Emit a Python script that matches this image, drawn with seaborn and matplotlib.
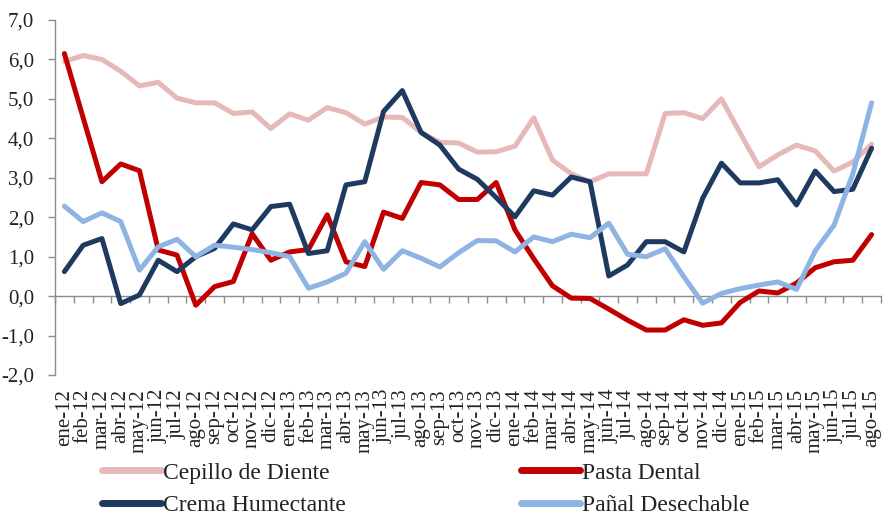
import matplotlib
matplotlib.use("Agg")
import matplotlib.pyplot as plt
import seaborn as sns
import pandas as pd
from matplotlib.ticker import FuncFormatter, FixedLocator

months = ["ene-12", "feb-12", "mar-12", "abr-12", "may-12", "jun-12", "jul-12", "ago-12", "sep-12", "oct-12", "nov-12", "dic-12",
          "ene-13", "feb-13", "mar-13", "abr-13", "may-13", "jun-13", "jul-13", "ago-13", "sep-13", "oct-13", "nov-13", "dic-13",
          "ene-14", "feb-14", "mar-14", "abr-14", "may-14", "jun-14", "jul-14", "ago-14", "sep-14", "oct-14", "nov-14", "dic-14",
          "ene-15", "feb-15", "mar-15", "abr-15", "may-15", "jun-15", "jul-15", "ago-15"]

cepillo = [5.95, 6.10, 6.00, 5.70, 5.33, 5.42, 5.02, 4.90, 4.90, 4.63, 4.67, 4.25,
           4.62, 4.46, 4.78, 4.65, 4.36, 4.54, 4.53, 4.15, 3.90, 3.88, 3.65, 3.66,
           3.80, 4.52, 3.45, 3.10, 2.90, 3.10, 3.10, 3.10, 4.63, 4.65, 4.50, 5.00,
           4.13, 3.28, 3.58, 3.83, 3.68, 3.17, 3.40, 3.85]
pasta = [6.15, 4.52, 2.90, 3.35, 3.18, 1.17, 1.04, -0.23, 0.24, 0.37, 1.58, 0.91,
         1.12, 1.18, 2.06, 0.87, 0.75, 2.13, 1.97, 2.88, 2.82, 2.45, 2.45, 2.88,
         1.68, 0.95, 0.26, -0.05, -0.06, -0.33, -0.61, -0.86, -0.86, -0.60, -0.74, -0.68,
         -0.16, 0.13, 0.08, 0.33, 0.72, 0.87, 0.91, 1.56]
crema = [0.62, 1.29, 1.46, -0.19, 0.03, 0.91, 0.62, 1.00, 1.21, 1.83, 1.68, 2.27,
         2.33, 1.08, 1.15, 2.82, 2.90, 4.68, 5.21, 4.15, 3.83, 3.22, 2.96, 2.50,
         2.01, 2.67, 2.56, 3.02, 2.90, 0.51, 0.79, 1.38, 1.38, 1.12, 2.48, 3.37,
         2.87, 2.87, 2.95, 2.31, 3.17, 2.65, 2.71, 3.75]
panal = [2.28, 1.89, 2.11, 1.89, 0.66, 1.25, 1.44, 1.00, 1.29, 1.24, 1.18, 1.10,
         1.00, 0.20, 0.36, 0.58, 1.38, 0.68, 1.15, 0.96, 0.74, 1.10, 1.41, 1.40,
         1.12, 1.50, 1.38, 1.57, 1.48, 1.85, 1.06, 1.00, 1.20, 0.49, -0.18, 0.07,
         0.19, 0.28, 0.36, 0.17, 1.15, 1.80, 3.10, 4.90]

series_names = ["Cepillo de Diente", "Pasta Dental", "Crema Humectante", "Pañal Desechable"]
series_colors = ["#E6B9B8", "#C00000", "#1F3A60", "#8DB4E2"]
y_ticks = [-2, -1, 0, 1, 2, 3, 4, 5, 6, 7]

frames = []
for name, vals in zip(series_names, [cepillo, pasta, crema, panal]):
    frames.append(pd.DataFrame({"mes": months, "valor": vals, "serie": name}))
df = pd.concat(frames, ignore_index=True)

sns.set_theme(style="white")
plt.rcParams["font.family"] = ["Liberation Serif", "DejaVu Serif"]

fig = plt.figure(figsize=(8.95, 5.18), dpi=100)
ax = fig.add_axes([55 / 895, 1 - 375 / 518, (881 - 55) / 895, (375 - 20) / 518])

sns.lineplot(data=df, x="mes", y="valor", hue="serie", hue_order=series_names,
             palette=dict(zip(series_names, series_colors)), sort=False,
             linewidth=3.6, ax=ax, legend=True,
             solid_joinstyle="round", solid_capstyle="round")

n = len(months)
ax.set_xlim(-0.5, n - 0.5)
ax.set_ylim(min(y_ticks), max(y_ticks))
ax.set_xlabel("")
ax.set_ylabel("")

spine_col = "#8C8C8C"
for s in ["top", "right", "bottom"]:
    ax.spines[s].set_visible(False)
ax.spines["left"].set_color(spine_col)
ax.spines["left"].set_linewidth(1.0)

ax.set_yticks(y_ticks)
ax.yaxis.set_major_formatter(FuncFormatter(lambda v, p: f"{v:.1f}".replace(".", ",")))
ax.tick_params(axis="y", direction="out", length=5, width=1, color=spine_col,
               labelsize=15, labelcolor="#222222", pad=10, left=True)

ax.set_xticks(range(n))
ax.set_xticklabels(months, rotation=90, ha="center", va="top")
ax.tick_params(axis="x", length=0, labelsize=15, labelcolor="#222222", pad=10, bottom=True)

# zero axis with tick marks between categories
zero_frac = (0 - min(y_ticks)) / (max(y_ticks) - min(y_ticks))
sec = ax.secondary_xaxis(zero_frac)
sec.xaxis.set_major_locator(FixedLocator([i - 0.5 for i in range(n + 1)]))
sec.tick_params(axis="x", direction="out", length=5, width=1, color=spine_col, labelbottom=False)
sec.set_xticklabels([])
sec.spines["bottom"].set_color(spine_col)
sec.spines["bottom"].set_linewidth(1.0)

handles, labels = ax.get_legend_handles_labels()
ax.get_legend().remove()
hmap = dict(zip(labels, handles))
order = ["Cepillo de Diente", "Crema Humectante", "Pasta Dental", "Pañal Desechable"]
leg = fig.legend([hmap[k] for k in order], order, ncol=2, loc="center left",
                 bbox_to_anchor=(102 / 895, (518 - 489) / 518), frameon=False,
                 fontsize=17, handlelength=2.5, handletextpad=0.1, columnspacing=7.4,
                 labelspacing=0.45, borderpad=0, borderaxespad=0)
for line in leg.get_lines():
    line.set_linewidth(5)
for t in leg.get_texts():
    t.set_color("#222222")

fig.savefig("out.png", dpi=100)
